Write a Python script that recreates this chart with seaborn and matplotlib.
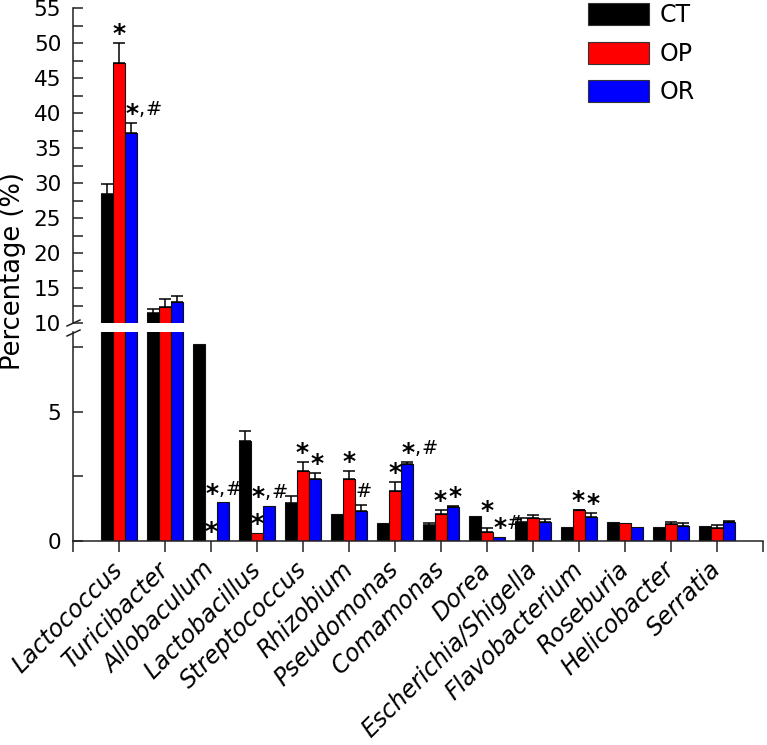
import numpy as np
import pandas as pd
import seaborn as sns
import matplotlib.pyplot as plt
from matplotlib.patches import Patch
from matplotlib.lines import Line2D
from matplotlib.textpath import TextPath
from matplotlib.font_manager import FontProperties

genera = ['Lactococcus', 'Turicibacter', 'Allobaculum', 'Lactobacillus', 'Streptococcus',
          'Rhizobium', 'Pseudomonas', 'Comamonas', 'Dorea', 'Escherichia/Shigella',
          'Flavobacterium', 'Roseburia', 'Helicobacter', 'Serratia']
groups = ['CT', 'OP', 'OR']
colors = ['#000000', '#ff0000', '#0000ff']

ct = [28.4, 11.4, 7.65, 3.88, 1.47, 1.05, 0.70, 0.62, 0.97, 0.74, 0.54, 0.74, 0.54, 0.58]
ct_err = [1.5, 0.6, 0.0, 0.38, 0.27, 0.0, 0.0, 0.08, 0.0, 0.15, 0.0, 0.0, 0.0, 0.0]
op = [47.1, 12.3, 0.0, 0.31, 2.71, 2.40, 1.94, 1.05, 0.35, 0.89, 1.20, 0.70, 0.66, 0.52]
op_err = [2.9, 1.2, 0.0, 0.0, 0.35, 0.31, 0.35, 0.15, 0.15, 0.11, 0.02, 0.0, 0.08, 0.10]
or_ = [37.1, 13.0, 1.50, 1.36, 2.40, 1.16, 2.98, 1.32, 0.16, 0.74, 0.93, 0.54, 0.58, 0.74]
or_err = [1.5, 0.9, 0.0, 0.0, 0.24, 0.24, 0.08, 0.04, 0.0, 0.11, 0.15, 0.0, 0.10, 0.04]

# significance marks per genus (OP, OR); CT has none
op_sig = ['*', '', '*', '*', '*', '*', '*', '*', '*', '', '*', '', '', '']
or_sig = ['*,#', '', '*,#', '*,#', '*', '#', '*,#', '*', '*#', '', '*', '', '', '']

df = pd.DataFrame({
    'genus': genera * 3,
    'group': np.repeat(groups, len(genera)),
    'value': ct + op + or_,
})
errs = [ct_err, op_err, or_err]
sigs = [[''] * len(genera), op_sig, or_sig]

W, H = 767, 745
fig = plt.figure(figsize=(W / 100, H / 100), dpi=100)
ax_top = fig.add_axes([73 / W, 1 - 323 / H, 690 / W, 315 / H])
ax_bot = fig.add_axes([73 / W, 1 - 541 / H, 690 / W, 209 / H])

spine_c = '#222222'
for ax in (ax_top, ax_bot):
    sns.barplot(data=df, x='genus', y='value', hue='group', palette=colors,
                saturation=1, edgecolor='#111111', linewidth=0.8, width=0.8,
                errorbar=None, legend=False, ax=ax)
    for cont, e in zip(ax.containers, errs):
        for bar, ev in zip(cont, e):
            if ev > 0:
                ax.errorbar(bar.get_x() + bar.get_width() / 2, bar.get_height(),
                            yerr=[[0], [ev]], fmt='none', ecolor='black',
                            elinewidth=1.1, capsize=4.5, capthick=1.1)
    ax.set_xlim(-1, 14)
    ax.set_xlabel('')
    ax.set_ylabel('')
    for s in ['top', 'right']:
        ax.spines[s].set_visible(False)
    ax.spines['left'].set_color(spine_c)
    ax.spines['left'].set_linewidth(1.1)
    ax.spines['bottom'].set_color(spine_c)
    ax.spines['bottom'].set_linewidth(1.1)
    ax.tick_params(axis='y', which='both', direction='in', length=7, width=1.1,
                   color=spine_c, labelsize=15.5, pad=8.5)

ax_top.set_ylim(10, 55)
ax_top.set_yticks(np.arange(10, 56, 5))
ax_top.set_yticks(np.arange(12.5, 55, 5), minor=True)
ax_top.spines['bottom'].set_visible(False)
ax_top.tick_params(axis='x', which='both', bottom=False, labelbottom=False)

ax_bot.set_ylim(0, 8.1)
ax_bot.set_yticks([0, 5])
ax_bot.set_yticks([2.5, 7.5], minor=True)
ax_bot.set_xticks(range(len(genera)))
ax_bot.set_xticks([-1, 14], minor=True)
ax_bot.tick_params(axis='x', which='both', direction='out', length=8, width=1.1,
                   color=spine_c, pad=10)
ax_bot.set_xticklabels(genera, rotation=45, ha='right', va='center',
                       rotation_mode='anchor', fontsize=17, style='italic')

# significance labels: big (bold) asterisks, smaller comma / hash
WEIGHT = {'*': 'bold', ',': 'normal', '#': 'normal'}
INK = {c: TextPath((0, 0), c, size=1,
                   prop=FontProperties(family='DejaVu Sans', weight=WEIGHT[c])).get_extents()
       for c in '*,#'}
FS = {'*': 8.4 / INK['*'].height, '#': 10.0 / INK['#'].height}
FS[','] = FS['#']
GAP = 5.5        # pt between error cap and glyph bottom
LABEL_H = 10.5   # pt
px2pt = 72 / fig.dpi
renderer = fig.canvas.get_renderer()


def make_label(ax, x, y, s):
    pieces, cur = [], 0.0
    for c in s:
        t = ax.annotate(c, xy=(x, y), xytext=(cur, 0), textcoords='offset points',
                        ha='left', va='baseline', fontsize=FS[c], fontweight=WEIGHT[c],
                        annotation_clip=False)
        w = t.get_window_extent(renderer).width * px2pt
        pieces.append((t, c, cur))
        cur += w + 0.3
    return pieces, cur - 0.3


def place_label(pieces, x0, dy):
    for t, c, cx in pieces:
        ink, f = INK[c], FS[c]
        if c == '*':
            base = dy + 0.8 - ink.y0 * f
        elif c == '#':
            base = dy - ink.y0 * f
        else:
            base = dy
        t.xyann = (x0 + cx, base)


def to_pt(ax, x, y):
    p = ax.transData.transform((x, y))
    return p[0] * px2pt, p[1] * px2pt


bars = ax_bot.containers
bw = bars[0][0].get_width() * (ax_bot.transData.transform((1, 0))[0]
                               - ax_bot.transData.transform((0, 0))[0]) * px2pt
for i in range(len(genera)):
    lab = {}
    for g in (2, 1):
        s = sigs[g][i]
        if not s:
            continue
        bar = bars[g][i]
        x = bar.get_x() + bar.get_width() / 2
        top = bar.get_height() + errs[g][i]
        ax = ax_top if top > 10 else ax_bot
        pieces, w = make_label(ax, x, top, s)
        x0 = -w / 2
        left_top = bars[g - 1][i].get_height() + errs[g - 1][i]
        if left_top > top and w > bw:
            x0 = -bw / 2
        px, py = to_pt(ax, x, top)
        lab[g] = dict(s=s, ax=ax, pieces=pieces, w=w, x0=x0, dy=GAP, px=px, py=py)

    if 1 in lab and 2 in lab and lab[1]['ax'] is lab[2]['ax']:
        o, r = lab[1], lab[2]
        ol, rl = o['px'] + o['x0'], r['px'] + r['x0']
        ob, rb = o['py'] + o['dy'], r['py'] + r['dy']
        if ol + o['w'] > rl:
            if len(r['s']) > 1:
                if rb <= ob and ob - rb < LABEL_H:
                    # OR label sits lower: lift the OP mark over it
                    o['dy'] = rb + LABEL_H + 1.5 - o['py']
                elif rb > ob and rb - (ob + LABEL_H) < 8:
                    # OR label just above: start it at its bar's left edge
                    r['x0'] = max(r['x0'], -bw / 2)
            elif abs(rb - ob) < LABEL_H:
                ov = ol + o['w'] - rl
                o['x0'] -= ov / 2 + 0.7
                r['x0'] += ov / 2 + 0.7
    for d in lab.values():
        place_label(d['pieces'], d['x0'], d['dy'])

# break marks on the left spine
for yb in (323, 333):
    fig.add_artist(Line2D([67 / W, 80 / W], [1 - (yb + 3) / H, 1 - (yb - 3) / H],
                          color=spine_c, lw=1.1))

fig.text(13 / W, 1 - 271 / H, 'Percentage (%)', rotation=90, ha='center', va='center',
         fontsize=18.5)

handles = [Patch(facecolor=c, edgecolor='#333333', linewidth=0.8) for c in colors]
fig.legend(handles, groups, loc='upper left', bbox_to_anchor=(588 / W, 1 - 3 / H),
           frameon=False, fontsize=17, handlelength=2.6, handleheight=1.05,
           labelspacing=0.62, handletextpad=0.45, borderpad=0, borderaxespad=0)

fig.savefig('out.png', dpi=100)
